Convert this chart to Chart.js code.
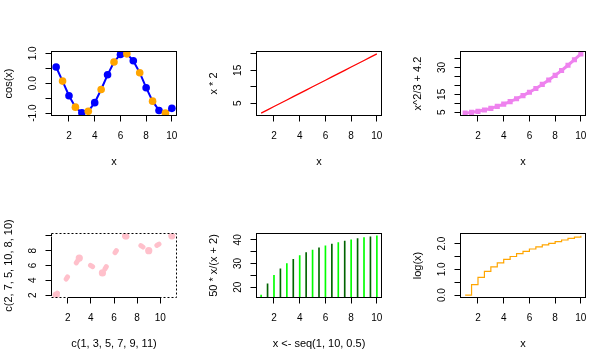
<!DOCTYPE html>
<html><head><meta charset="utf-8">
<script src="https://cdn.jsdelivr.net/npm/chart.js@4/dist/chart.umd.min.js"></script>
<style>
html,body{margin:0;padding:0;background:#fff;width:613px;height:363px;overflow:hidden}
canvas{position:absolute}
</style></head><body>
<canvas id="p1" width="204" height="181" style="left:0;top:0"></canvas>
<canvas id="p2" width="204" height="181" style="left:205px;top:0"></canvas>
<canvas id="p3" width="204" height="181" style="left:409px;top:0"></canvas>
<canvas id="p4" width="204" height="181" style="left:0;top:182px"></canvas>
<canvas id="p5" width="204" height="181" style="left:205px;top:182px"></canvas>
<canvas id="p6" width="204" height="181" style="left:409px;top:182px"></canvas>
<script>
// ---- data ----
const xSeq = [1, 1.5, 2, 2.5, 3, 3.5, 4, 4.5, 5, 5.5, 6, 6.5, 7, 7.5, 8, 8.5, 9, 9.5, 10];
const cosValues = [0.54, 0.07, -0.42, -0.80, -0.99, -0.94, -0.65, -0.21, 0.28, 0.71, 0.96, 0.98, 0.75, 0.35, -0.15, -0.60, -0.91, -1.00, -0.84];
const doubleValues = [2, 3, 4, 5, 6, 7, 8, 9, 10, 11, 12, 13, 14, 15, 16, 17, 18, 19, 20];
const quadValues = [4.53, 4.95, 5.53, 6.28, 7.20, 8.28, 9.53, 10.95, 12.53, 14.28, 16.20, 18.28, 20.53, 22.95, 25.53, 28.28, 31.20, 34.28, 37.53];
const pinkX = [1, 3, 5, 7, 9, 11];
const pinkY = [2, 7, 5, 10, 8, 10];
const ratioValues = [16.67, 21.43, 25.00, 27.78, 30.00, 31.82, 33.33, 34.62, 35.71, 36.67, 37.50, 38.24, 38.89, 39.47, 40.00, 40.48, 40.91, 41.30, 41.67];
const logValues = [0, 0.41, 0.69, 0.92, 1.10, 1.25, 1.39, 1.50, 1.61, 1.70, 1.79, 1.87, 1.95, 2.01, 2.08, 2.14, 2.20, 2.25, 2.30];

const xTicks = [2, 4, 6, 8, 10];
const xTickLabels = ['2', '4', '6', '8', '10'];
const p1YTicks = [-1, -0.5, 0, 0.5, 1];
const p1YLabels = ['-1.0', '', '0.0', '', '1.0'];
const p2YTicks = [5, 10, 15, 20];
const p2YLabels = ['5', '', '15', ''];
const p3YTicks = [5, 10, 15, 20, 25, 30, 35];
const p3YLabels = ['5', '', '15', '', '', '30', ''];
const p4YTicks = [2, 4, 6, 8, 10];
const p4YLabels = ['2', '4', '6', '8', ''];
const p5YTicks = [20, 25, 30, 35, 40];
const p5YLabels = ['20', '', '30', '', '40'];
const p6YTicks = [0, 0.5, 1, 1.5, 2];
const p6YLabels = ['0.0', '', '1.0', '', '2.0'];

// ---- styling / helpers ----
const FAMILY = '"Liberation Sans", Arial, sans-serif';
const TICK_FONT = {family: FAMILY, size: 10, lineHeight: 1.2};
const TITLE_FONT = {family: FAMILY, size: 11, lineHeight: 1.2};
const AREA_L = 51.5, AREA_B = 115.5, YLAB_CENTER = 33, TICK_LEN = 6;

function rRange(vals) {
  const mn = Math.min(...vals), mx = Math.max(...vals);
  const d = (mx - mn) * 0.04;
  return [mn - d, mx + d];
}
const mctx = document.createElement('canvas').getContext('2d');
function yPad(labels) {
  mctx.font = '10px ' + FAMILY;
  const w = Math.max(...labels.map(l => mctx.measureText(l).width));
  return AREA_L - TICK_LEN - YLAB_CENTER - w / 2;
}
function pts(xs, ys) { return xs.map((x, i) => ({x: x, y: ys[i]})); }

function xScale(range, ticks, labels, title) {
  return {
    type: 'linear', min: range[0], max: range[1], offset: false,
    afterBuildTicks: s => { s.ticks = ticks.map(v => ({value: v})); },
    afterFit: s => { s.height = 181 - AREA_B; },
    ticks: {autoSkip: false, minRotation: 0, maxRotation: 0, color: '#000', font: TICK_FONT, padding: 8.5,
            callback: (v, i) => labels[i]},
    grid: {drawOnChartArea: false, drawTicks: true, tickLength: TICK_LEN, color: '#000', lineWidth: 1, offset: false},
    border: {display: false},
    title: {display: true, text: title, color: '#000', font: TITLE_FONT, padding: {top: 0, bottom: 12}}
  };
}
function yScale(range, ticks, labels, title) {
  return {
    type: 'linear', min: range[0], max: range[1],
    afterBuildTicks: s => { s.ticks = ticks.map(v => ({value: v})); },
    afterFit: s => { s.width = AREA_L; },
    ticks: {autoSkip: false, minRotation: 90, maxRotation: 90, crossAlign: 'center', color: '#000', font: TICK_FONT,
            padding: yPad(labels), callback: (v, i) => labels[i]},
    grid: {drawOnChartArea: false, drawTicks: true, tickLength: TICK_LEN, color: '#000', lineWidth: 1},
    border: {display: false},
    title: {display: true, text: title, color: '#000', font: TITLE_FONT, padding: {top: 2, bottom: 0}}
  };
}

const rFrame = {
  id: 'rFrame',
  afterDatasetsDraw(chart, args, opts) {
    const {ctx, chartArea: a, scales: {x, y}} = chart;
    ctx.save();
    ctx.strokeStyle = '#000';
    ctx.lineWidth = 1;
    ctx.setLineDash(opts.dash || []);
    ctx.strokeRect(a.left, a.top, a.right - a.left, a.bottom - a.top);
    ctx.setLineDash([]);
    const xt = x.ticks, yt = y.ticks;
    ctx.beginPath();
    ctx.moveTo(Math.round(x.getPixelForValue(xt[0].value)) + 0.5, a.bottom);
    ctx.lineTo(Math.round(x.getPixelForValue(xt[xt.length - 1].value)) + 0.5, a.bottom);
    ctx.moveTo(a.left, Math.round(y.getPixelForValue(yt[0].value)) + 0.5);
    ctx.lineTo(a.left, Math.round(y.getPixelForValue(yt[yt.length - 1].value)) + 0.5);
    ctx.stroke();
    ctx.restore();
  }
};

function makeChart(id, type, datasets, xs, ys, dash) {
  return new Chart(document.getElementById(id), {
    type: type,
    data: {datasets: datasets},
    options: {
      responsive: false, animation: false, devicePixelRatio: 1,
      layout: {padding: {left: 0, top: 51.5, right: 27.5, bottom: 0}},
      plugins: {legend: {display: false}, tooltip: {enabled: false}, rFrame: {dash: dash}},
      scales: {x: xs, y: ys}
    },
    plugins: [rFrame]
  });
}

// Panel 1: cos(x)
makeChart('p1', 'line', [{
  data: pts(xSeq, cosValues), borderColor: 'blue', borderWidth: 2, tension: 0,
  pointRadius: 3.8, pointBorderWidth: 0,
  pointBackgroundColor: xSeq.map((_, i) => i % 2 ? 'orange' : 'blue'),
  pointBorderColor: xSeq.map((_, i) => i % 2 ? 'orange' : 'blue')
}], xScale(rRange(xSeq), xTicks, xTickLabels, 'x'), yScale(rRange(cosValues), p1YTicks, p1YLabels, 'cos(x)'));

// Panel 2: x * 2
makeChart('p2', 'line', [{
  data: pts(xSeq, doubleValues), borderColor: 'red', borderWidth: 1.3, pointRadius: 0, tension: 0
}], xScale(rRange(xSeq), xTicks, xTickLabels, 'x'), yScale(rRange(doubleValues), p2YTicks, p2YLabels, 'x * 2'));

// Panel 3: x^2/3 + 4.2
makeChart('p3', 'line', [{
  data: pts(xSeq, quadValues), borderColor: 'violet', borderWidth: 3, tension: 0,
  pointStyle: 'rect', pointRadius: 3.6, pointBorderWidth: 0, pointBorderColor: 'violet', pointBackgroundColor: 'violet'
}], xScale(rRange(xSeq), xTicks, xTickLabels, 'x'), yScale(rRange(quadValues), p3YTicks, p3YLabels, 'x^2/3 + 4.2'));

// Panel 4: pink dotted
makeChart('p4', 'line', [{
  data: pts(pinkX, pinkY), borderColor: 'pink', borderWidth: 5, borderDash: [2.5, 16.5], borderCapStyle: 'round',
  borderJoinStyle: 'round', tension: 0,
  pointRadius: 3.6, pointBorderWidth: 0, pointBackgroundColor: 'pink', pointBorderColor: 'pink'
}], xScale(rRange(pinkX), xTicks, xTickLabels, 'c(1, 3, 5, 7, 9, 11)'),
   yScale(rRange(pinkY), p4YTicks, p4YLabels, 'c(2, 7, 5, 10, 8, 10)'), [2, 2]);

// Panel 5: vertical lines (type "h")
makeChart('p5', 'bar', [{
  data: pts(xSeq, ratioValues), barThickness: 1, clip: 0,
  backgroundColor: xSeq.map((_, i) => i % 2 ? '#006400' : '#00FF00')
}], xScale(rRange(xSeq), xTicks, xTickLabels, 'x <- seq(1, 10, 0.5)'),
   yScale(rRange(ratioValues), p5YTicks, p5YLabels, '50 * x/(x + 2)'));

// Panel 6: step log(x)
makeChart('p6', 'line', [{
  data: pts(xSeq, logValues), borderColor: 'orange', borderWidth: 1.2, pointRadius: 0, stepped: true
}], xScale(rRange(xSeq), xTicks, xTickLabels, 'x'), yScale(rRange(logValues), p6YTicks, p6YLabels, 'log(x)'));
</script>
</body></html>
